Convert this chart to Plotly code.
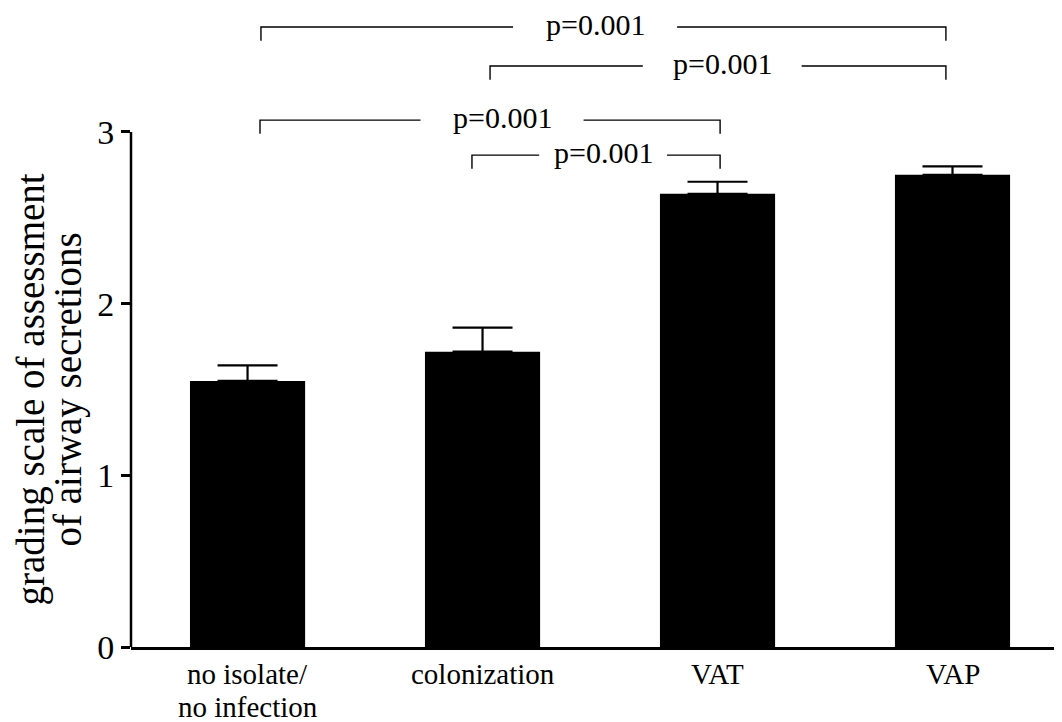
import plotly.graph_objects as go

categories = ["no isolate/<br>no infection", "colonization", "VAT", "VAP"]
means = [1.55, 1.72, 2.64, 2.75]
sem = [0.09, 0.14, 0.07, 0.05]
y_ticks = [0, 1, 2, 3]
y_title_lines = ["grading scale of assessment", "of airway secretions"]

# significance brackets: left x, right x (category index units), level y, text centre, half gap, label
br_left = [0.057, 1.032, 0.053, 0.955]
br_right = [2.972, 2.972, 2.011, 2.011]
br_y = [3.611, 3.384, 3.069, 2.865]
br_text_x = [1.479, 2.02, 1.083, 1.513]
br_half_gap = [0.349, 0.338, 0.347, 0.272]
br_label = ["p=0.001", "p=0.001", "p=0.001", "p=0.001"]
br_drop = 0.08

FONT = "Liberation Serif"
xs = list(range(len(categories)))

fig = go.Figure()
fig.add_trace(go.Bar(
    x=xs, y=means, width=0.49,
    marker=dict(color="black", line=dict(width=0)),
    error_y=dict(type="data", symmetric=False, array=sem,
                 arrayminus=[0] * len(sem), color="black",
                 thickness=2.2, width=30),
    showlegend=False,
))

# small dot ticks below x axis
fig.add_trace(go.Scatter(
    x=xs, y=[-0.055] * len(xs), mode="markers",
    marker=dict(symbol="square", size=2.5, color="black"),
    cliponaxis=False, showlegend=False, hoverinfo="skip",
))

bx, by = [], []
for l, r, y, tc, hg in zip(br_left, br_right, br_y, br_text_x, br_half_gap):
    bx += [l, l, tc - hg, None, tc + hg, r, r, None]
    by += [y - br_drop, y, y, None, y, y, y - br_drop, None]
fig.add_trace(go.Scatter(
    x=bx, y=by, mode="lines", line=dict(color="black", width=1.4),
    showlegend=False, hoverinfo="skip",
))

for tc, y, lab in zip(br_text_x, br_y, br_label):
    fig.add_annotation(x=tc, y=y, xref="x", yref="y", text=lab,
                       showarrow=False, xanchor="center", yanchor="middle",
                       yshift=3,
                       font=dict(family=FONT, size=30, color="black"))

# x category labels (one annotation per line for tight line spacing)
for xi, cat in zip(xs, categories):
    for li, line in enumerate(cat.split("<br>")):
        fig.add_annotation(x=xi, y=0, xref="x", yref="paper", text=line,
                           showarrow=False, xanchor="center", yanchor="middle",
                           yshift=-27 - 33 * li,
                           font=dict(family=FONT, size=29, color="black"))

# y axis line (only from 0 to 3)
fig.add_shape(type="line", xref="paper", yref="y", x0=0, x1=0, y0=0, y1=3,
              line=dict(color="black", width=2.5))

for li, line in enumerate(y_title_lines):
    fig.add_annotation(x=0, y=1.5, xref="paper", yref="y", text=line,
                       textangle=-90, showarrow=False, xanchor="center",
                       yanchor="middle", xshift=-100 + 37 * li,
                       font=dict(family=FONT, size=39, color="black"))

# the page body adds an 8px offset; the figure is sized to fill the window
fig.update_layout(
    width=1054, height=714,
    margin=dict(l=123, r=0, t=0, b=75),
    paper_bgcolor="white", plot_bgcolor="white",
    font=dict(family=FONT, color="black"),
)
fig.update_xaxes(
    range=[-0.496, 3.466], tickvals=xs, showticklabels=False,
    showline=True, linecolor="black", linewidth=2.5, automargin=False,
    ticks="", showgrid=False, zeroline=False,
)
fig.update_yaxes(
    range=[0, 3.722], tickvals=y_ticks, ticktext=[str(t) for t in y_ticks],
    showline=False, ticks="outside", ticklen=9, tickwidth=2.5, automargin=False,
    tickcolor="black", showgrid=False, zeroline=False,
    tickfont=dict(family=FONT, size=34, color="black"),
)

fig.write_html("out.html")
